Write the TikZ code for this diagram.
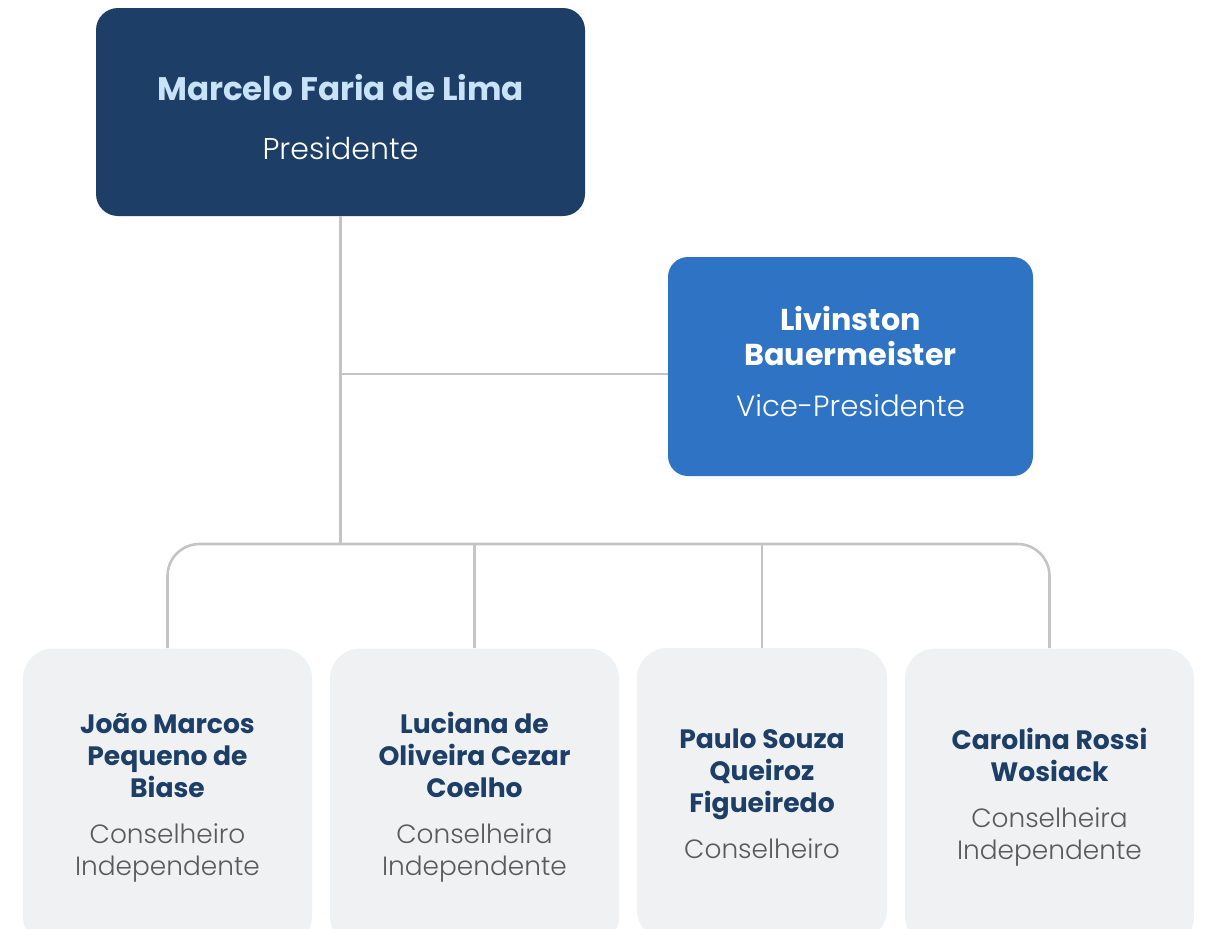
\documentclass[tikz,border=0pt]{standalone}
\usepackage{fontspec}
\setmainfont{Poppins}
\IfFontExistsTF{Poppins Light}{\newfontfamily\lightfont{Poppins Light}}{\newfontfamily\lightfont{Poppins}}

\definecolor{navy}{HTML}{1D3E66}
\definecolor{vpblue}{HTML}{2F74C4}
\definecolor{presname}{HTML}{C8E2F7}
\definecolor{cardfill}{HTML}{F0F1F3}
\definecolor{rolegrey}{HTML}{5A5A5A}
\definecolor{linkgrey}{HTML}{C4C4C4}

% one line of a name, one line of a role
\newcommand{\nm}[1]{{\bfseries\fontsize{13.3}{16}\selectfont\color{navy}#1}}
\newcommand{\rl}[1]{{\lightfont\fontsize{13.2}{16}\selectfont\color{rolegrey}#1}}

\tikzstyle{presblock} = [rectangle, rounded corners=11pt, minimum width=244.5pt, minimum height=104pt, align=center, fill=navy, inner sep=0pt, font=\fontsize{15}{29.5}\selectfont]
\tikzstyle{vpblock} = [presblock, rounded corners=10pt, minimum width=182.5pt, minimum height=109.5pt, fill=vpblue, font=\fontsize{15}{17.5}\selectfont]
\tikzstyle{memberblock} = [presblock, rounded corners=15pt, minimum width=144.5pt, minimum height=149pt, fill=cardfill, font=\fontsize{13}{16}\selectfont]
\tikzstyle{narrowblock} = [memberblock, minimum width=125pt, minimum height=146pt]
\tikzstyle{link} = [-, draw=linkgrey, line width=1.3pt]

\begin{document}
\begin{tikzpicture}[x=0.5pt, y=-0.5pt]
    \useasboundingbox (0,0) rectangle (1208,928);
    \clip (0,0) rectangle (1208,928);

    \node (pres) [presblock] at (340.5,112) {{\bfseries\fontsize{16.3}{29.5}\selectfont\color{presname}\rule{0pt}{18pt}Marcelo Faria de Lima}\\{\lightfont\fontsize{15}{29.5}\selectfont\color{white}Presidente}};
    \node (vp) [vpblock] at (850.5,366.5) {{\bfseries\fontsize{15.1}{17.5}\selectfont\color{white}Livinston}\\{\bfseries\fontsize{15.1}{17.5}\selectfont\color{white}Bauermeister}\\[8pt]{\lightfont\fontsize{14.6}{17.5}\selectfont\color{white}\rule[-5pt]{0pt}{0pt}Vice-Presidente}};

    \node (joao) [memberblock] at (167.5,797.5) {\nm{João Marcos}\\\nm{Pequeno de}\\\nm{Biase}\\[7pt]\rl{Conselheiro}\\\rl{Independente}};
    \node (luciana) [memberblock] at (474.5,797.5) {\nm{Luciana de}\\\nm{Oliveira Cezar}\\\nm{Coelho}\\[7pt]\rl{Conselheira}\\\rl{Independente}};
    \node (paulo) [narrowblock] at (762,794) {\nm{Paulo Souza}\\\nm{Queiroz}\\\nm{Figueiredo}\\[7pt]\rl{Conselheiro}};
    \node (carolina) [memberblock] at (1049.5,797.5) {\nm{Carolina Rossi}\\\nm{Wosiack}\\[7pt]\rl{Conselheira}\\\rl{Independente}};

    \coordinate (bus) at (340.5,544);
    \coordinate (tee) at (340.5,374);

    \draw [link] (pres.south) -- (bus);
    \draw [link] (tee) -- (tee -| vp.west);
    \draw [link, rounded corners=16pt] (joao.north) -- (joao.north |- bus) -- (carolina.north |- bus) -- (carolina.north);
    \draw [link] (luciana.north) -- (luciana.north |- bus);
    \draw [link] (paulo.north) -- (paulo.north |- bus);
\end{tikzpicture}
\end{document}
